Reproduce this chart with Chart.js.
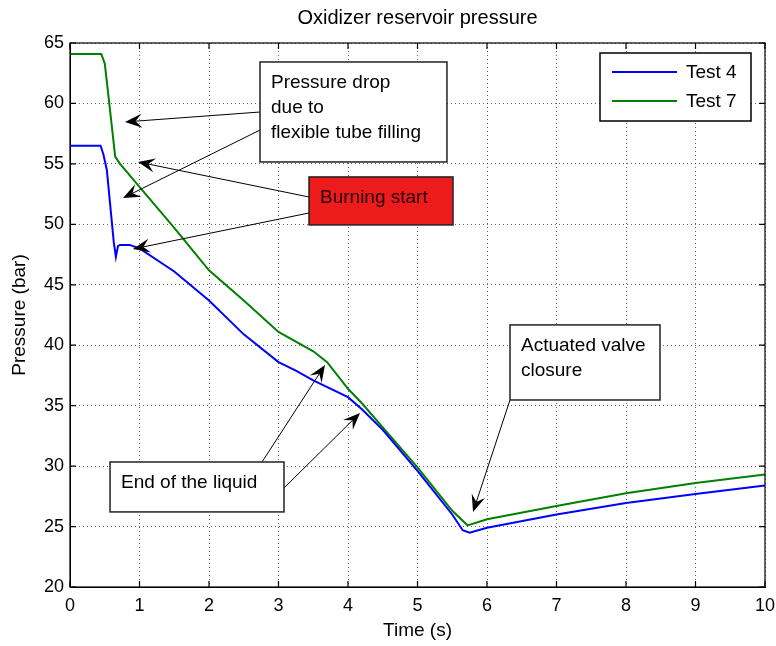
<!DOCTYPE html>
<html>
<head>
<meta charset="utf-8">
<title>Oxidizer reservoir pressure</title>
<script src="https://cdn.jsdelivr.net/npm/chart.js@4.4.1/dist/chart.umd.min.js"></script>
<style>
  body { margin: 0; background: #fff; }
  #wrap { width: 776px; height: 646px; }
</style>
</head>
<body>
<div id="wrap"><canvas id="pressureChart" width="776" height="646"></canvas></div>
<script>
// values (time in s, pressure in bar)
const seriesLabels = ['Test 4', 'Test 7'];
const seriesColors = ['#0000ff', '#008000'];

const timeTest4 = [0, 0.44, 0.48, 0.53, 0.58, 0.63, 0.66, 0.69, 0.72, 0.86, 1.0, 1.5, 2.0, 2.5, 3.0, 3.25, 3.5, 4.0, 4.2, 4.5, 5.0, 5.5, 5.65, 5.75, 6.0, 7.0, 8.0, 9.0, 10.0];
const pressureTest4 = [56.5, 56.5, 55.8, 54.5, 51.5, 48.5, 47.3, 48.2, 48.3, 48.3, 48.0, 46.1, 43.7, 40.9, 38.6, 37.9, 37.1, 35.7, 34.7, 33.0, 29.6, 26.0, 24.7, 24.5, 24.9, 26.0, 26.95, 27.7, 28.4];

const timeTest7 = [0, 0.45, 0.5, 0.55, 0.6, 0.65, 0.72, 1.0, 1.5, 2.0, 2.5, 3.0, 3.5, 3.7, 4.0, 4.2, 4.5, 5.0, 5.5, 5.72, 6.0, 7.0, 8.0, 9.0, 10.0];
const pressureTest7 = [64.1, 64.1, 63.3, 60.8, 58.2, 55.6, 55.0, 53.1, 49.7, 46.2, 43.7, 41.1, 39.5, 38.6, 36.4, 35.2, 33.2, 29.9, 26.3, 25.1, 25.6, 26.7, 27.75, 28.6, 29.3];

const xTicks = [0, 1, 2, 3, 4, 5, 6, 7, 8, 9, 10];
const yTicks = [20, 25, 30, 35, 40, 45, 50, 55, 60, 65];

// text boxes, corners in data units (time, pressure)
const notes = [
  { lines: ['Pressure drop', 'due to', 'flexible tube filling'], x0: 2.734, y0: 63.43, x1: 5.424, y1: 55.16, fill: '#fff' },
  { lines: ['Burning start'], x0: 3.439, y0: 53.92, x1: 5.511, y1: 49.95, fill: '#ed1c1c', text: '#2a0000' },
  { lines: ['End of the liquid'], x0: 0.576, y0: 30.34, x1: 3.079, y1: 26.21, fill: '#fff' },
  { lines: ['Actuated valve', 'closure'], x0: 6.331, y0: 41.68, x1: 8.489, y1: 35.47, fill: '#fff' }
];
// arrows: tail -> head, data units
const arrows = [
  [2.734, 59.29, 0.791, 58.47],
  [2.734, 57.80, 0.763, 52.18],
  [3.439, 52.26, 0.978, 55.16],
  [3.439, 50.94, 0.906, 47.96],
  [2.763, 30.34, 3.669, 38.37],
  [3.079, 28.19, 4.173, 34.40],
  [6.331, 35.47, 5.799, 26.21]
];

const FONT = "'Liberation Sans', Arial, sans-serif";

function toPoints(xs, ys) {
  return xs.map((x, i) => ({ x: x, y: ys[i] }));
}

const overlay = {
  id: 'overlay',
  afterDraw(chart) {
    const ctx = chart.ctx;
    const a = chart.chartArea;
    const sx = chart.scales.x, sy = chart.scales.y;
    const px = v => sx.getPixelForValue(v);
    const py = v => sy.getPixelForValue(v);
    ctx.save();

    // axes box and inward ticks
    ctx.strokeStyle = '#000';
    ctx.lineWidth = 1.2;
    ctx.strokeRect(a.left, a.top, a.right - a.left, a.bottom - a.top);
    ctx.beginPath();
    xTicks.forEach(v => {
      const x = px(v);
      ctx.moveTo(x, a.bottom); ctx.lineTo(x, a.bottom - 6);
      ctx.moveTo(x, a.top); ctx.lineTo(x, a.top + 6);
    });
    yTicks.forEach(v => {
      const y = py(v);
      ctx.moveTo(a.left, y); ctx.lineTo(a.left + 6, y);
      ctx.moveTo(a.right, y); ctx.lineTo(a.right - 6, y);
    });
    ctx.stroke();

    // titles
    ctx.fillStyle = '#000';
    ctx.textAlign = 'center';
    ctx.textBaseline = 'middle';
    ctx.font = '20px ' + FONT;
    ctx.fillText('Oxidizer reservoir pressure', (a.left + a.right) / 2, 18);
    ctx.font = '19px ' + FONT;
    ctx.fillText('Time (s)', (a.left + a.right) / 2, 631);
    ctx.save();
    ctx.translate(20, (a.top + a.bottom) / 2);
    ctx.rotate(-Math.PI / 2);
    ctx.fillText('Pressure (bar)', 0, 0);
    ctx.restore();

    // arrows
    ctx.fillStyle = '#000';
    ctx.strokeStyle = '#000';
    ctx.lineWidth = 1;
    arrows.forEach(r => {
      const x1 = px(r[0]), y1 = py(r[1]), x2 = px(r[2]), y2 = py(r[3]);
      const ang = Math.atan2(y2 - y1, x2 - x1);
      const c = Math.cos(ang), s = Math.sin(ang);
      const L = 17, W = 7;
      ctx.beginPath();
      ctx.moveTo(x1, y1);
      ctx.lineTo(x2 - c * L * 0.6, y2 - s * L * 0.6);
      ctx.stroke();
      const bx = x2 - c * L, by = y2 - s * L;
      ctx.beginPath();
      ctx.moveTo(x2, y2);
      ctx.lineTo(bx - s * W, by + c * W);
      ctx.lineTo(x2 - c * L * 0.62, y2 - s * L * 0.62);
      ctx.lineTo(bx + s * W, by - c * W);
      ctx.closePath();
      ctx.fill();
    });

    // boxes
    ctx.textAlign = 'left';
    ctx.font = '19px ' + FONT;
    notes.forEach(n => {
      const l = px(n.x0), t = py(n.y0), r = px(n.x1), b = py(n.y1);
      ctx.fillStyle = n.fill;
      ctx.fillRect(l, t, r - l, b - t);
      ctx.strokeStyle = '#222';
      ctx.lineWidth = 1.5;
      ctx.strokeRect(l, t, r - l, b - t);
      ctx.fillStyle = n.text || '#000';
      n.lines.forEach((s, i) => ctx.fillText(s, l + 11, t + 21 + i * 25));
    });

    // legend, inset top-right
    const lw = 151, lh = 68;
    const ll = a.right - 14 - lw, lt = a.top + 10;
    ctx.fillStyle = '#fff';
    ctx.fillRect(ll, lt, lw, lh);
    ctx.strokeStyle = '#000';
    ctx.lineWidth = 1.5;
    ctx.strokeRect(ll, lt, lw, lh);
    seriesLabels.forEach((lab, i) => {
      const y = lt + 19 + i * 29;
      ctx.strokeStyle = seriesColors[i];
      ctx.lineWidth = 2;
      ctx.beginPath();
      ctx.moveTo(ll + 12, y); ctx.lineTo(ll + 77, y);
      ctx.stroke();
      ctx.fillStyle = '#000';
      ctx.fillText(lab, ll + 86, y + 1);
    });
    ctx.restore();
  }
};

const ctx = document.getElementById('pressureChart').getContext('2d');
const myChart = new Chart(ctx, {
  type: 'line',
  data: {
    datasets: [
      { label: seriesLabels[0], data: toPoints(timeTest4, pressureTest4), borderColor: seriesColors[0], borderWidth: 2, pointRadius: 0, tension: 0, fill: false },
      { label: seriesLabels[1], data: toPoints(timeTest7, pressureTest7), borderColor: seriesColors[1], borderWidth: 2, pointRadius: 0, tension: 0, fill: false }
    ]
  },
  options: {
    responsive: false,
    animation: false,
    layout: { padding: { top: 43, right: 11, left: 0, bottom: 0 } },
    plugins: {
      legend: { display: false },
      title: { display: false },
      tooltip: { enabled: false }
    },
    scales: {
      x: {
        type: 'linear',
        min: 0,
        max: 10,
        afterBuildTicks: s => { s.ticks = xTicks.map(v => ({ value: v })); },
        afterFit: s => { s.height = 59; s.paddingLeft = 0; s.paddingRight = 0; },
        grid: { color: 'rgba(0,0,0,0.6)', lineWidth: 1, drawTicks: false },
        border: { display: true, color: '#000', width: 1, dash: [1, 3] },
        ticks: { color: '#000', padding: 8, maxRotation: 0, font: { family: FONT, size: 18 } }
      },
      y: {
        type: 'linear',
        min: 20,
        max: 65,
        afterBuildTicks: s => { s.ticks = yTicks.map(v => ({ value: v })); },
        afterFit: s => { s.width = 70; s.paddingTop = 0; s.paddingBottom = 0; },
        grid: { color: 'rgba(0,0,0,0.6)', lineWidth: 1, drawTicks: false },
        border: { display: true, color: '#000', width: 1, dash: [1, 3] },
        ticks: { color: '#000', padding: 6, font: { family: FONT, size: 18 } }
      }
    }
  },
  plugins: [overlay]
});
</script>
</body>
</html>
